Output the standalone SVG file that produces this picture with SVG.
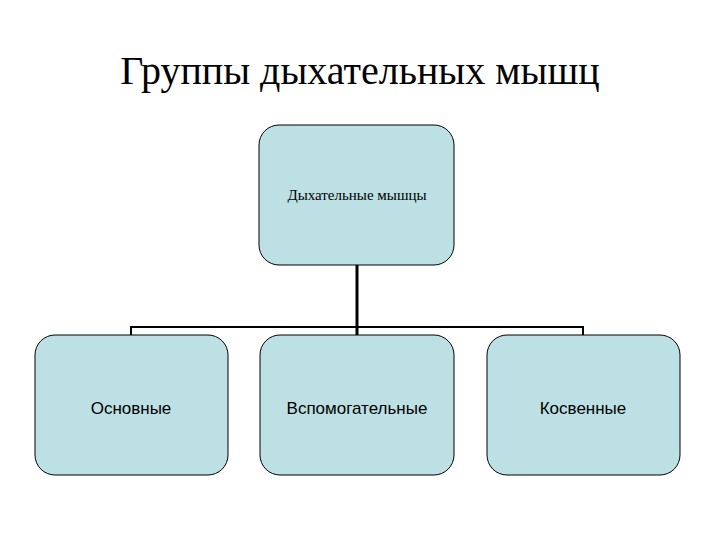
<svg xmlns="http://www.w3.org/2000/svg" width="720" height="540" viewBox="0 0 720 540">
<style>
.box{fill:#bce0e3;stroke:#000;stroke-width:1}
.t{font-family:"Liberation Sans",Arial,sans-serif;font-size:17px;text-anchor:middle}
.ts{font-family:"Liberation Serif","Times New Roman",serif;font-size:15px;text-anchor:middle}
</style>
<rect width="720" height="540" fill="#fff"/>
<text x="360" y="84" font-family="Liberation Serif,Times New Roman,serif" font-size="40" text-anchor="middle">Группы дыхательных мышц</text>
<g id="connectors" fill="none" stroke="#000">
<line x1="357" y1="265" x2="357" y2="335" stroke-width="3"/>
<polyline points="131,335 131,327 583,327 583,335" stroke-width="2"/>
</g>
<g id="root"><rect class="box" x="259" y="125" width="195" height="140" rx="20"/><text class="ts" x="357" y="200">Дыхательные мышцы</text></g>
<g id="n1"><rect class="box" x="35" y="335" width="193" height="140" rx="20"/><text class="t" x="131" y="414">Основные</text></g>
<g id="n2"><rect class="box" x="260" y="335" width="194" height="140" rx="20"/><text class="t" x="357" y="414">Вспомогательные</text></g>
<g id="n3"><rect class="box" x="487" y="335" width="193" height="140" rx="20"/><text class="t" x="583" y="414">Косвенные</text></g>
</svg>
